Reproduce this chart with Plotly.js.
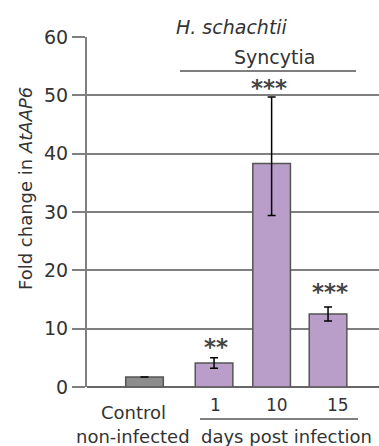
<!DOCTYPE html>
<html>
<head>
<meta charset="utf-8">
<script src="https://cdn.plot.ly/plotly-3.0.1.min.js"></script>
<style>
html,body{margin:0;padding:0;background:#fff;}
#chart{width:379px;height:446px;}
</style>
</head>
<body>
<div id="chart"></div>
<script>
// ---- data ----
const groups = ["Control", "1", "10", "15"];
const foldChange = [1.7, 4.1, 38.3, 12.5];
const errPlus = [0, 0.9, 11.4, 1.2];
const errMinus = [0, 0.9, 8.9, 1.2];
const significance = ["", "**", "***", "***"];
const yTicks = [0, 10, 20, 30, 40, 50, 60];

// ---- layout helpers (positions, not data) ----
const xPos = [0, 1.22, 2.23, 3.22];
const FONT = "DejaVu Sans, Arial, sans-serif";
const GRID = "#7f7f7f";
const PX_L = 87, PX_W = 292, PX_B = 387, PX_H = 350;
const px = v => (v - PX_L) / PX_W;
const py = v => (PX_B - v) / PX_H;

const barColors = ["#8c8c8c", "#b99ec9", "#b99ec9", "#b99ec9"];

const trace = {
  type: "bar",
  x: xPos,
  y: foldChange,
  width: 0.66,
  marker: { color: barColors, line: { color: "#555555", width: 1.5 } },
  error_y: {
    type: "data", symmetric: false,
    array: errPlus, arrayminus: errMinus,
    color: "#000000", thickness: 1.5, width: 4,
    visible: true
  },
  hoverinfo: "none"
};

const sigY = [0, 6.9, 51.3, 16.3];
const sigShift = [0, 2, -3, 2];
const annotations = [];
significance.forEach((s, i) => {
  if (!s) return;
  annotations.push({
    xref: "x", yref: "y", x: xPos[i], y: sigY[i], xshift: sigShift[i],
    text: "<b>" + s + "</b>", showarrow: false, yanchor: "middle",
    font: { family: FONT, size: 23, color: "#444444" }
  });
});

function label(text, x, y, size, extra) {
  annotations.push(Object.assign({
    xref: "paper", yref: "paper", x: px(x), y: py(y), text: text,
    showarrow: false, xanchor: "center", yanchor: "middle",
    font: { family: FONT, size: size, color: "#333333" }
  }, extra || {}));
}
label("<i>H. schachtii</i>", 231.5, 27, 19);
label("Syncytia", 274, 57, 19);
label("Control", 133, 412, 18);
label("non-infected", 132.5, 436, 18);
label(groups[1], 215.5, 405, 17);
label(groups[2], 276.7, 405, 17);
label(groups[3], 337.5, 405, 17);
label("days post infection", 286, 436, 18);
label("Fold change in <i>AtAAP6</i>", 25, 189, 18, { textangle: -90 });

const shapes = [
  { type: "line", xref: "paper", yref: "paper", x0: px(180), x1: px(356), y0: py(71), y1: py(71),
    line: { color: "#555555", width: 1.5 } },
  { type: "line", xref: "paper", yref: "paper", x0: px(200), x1: px(358), y0: py(419), y1: py(419),
    line: { color: "#555555", width: 1.5 } }
];

const layout = {
  width: 379, height: 446,
  margin: { l: PX_L, r: 0, t: 37, b: 59, pad: 0 },
  paper_bgcolor: "#ffffff", plot_bgcolor: "#ffffff",
  showlegend: false,
  font: { family: FONT, color: "#333333" },
  xaxis: {
    range: [-1.009, 4.114], showgrid: false, zeroline: false,
    showticklabels: false, ticks: "", showline: false, fixedrange: true
  },
  yaxis: {
    range: [0, 60], tickvals: yTicks, ticktext: yTicks.map(String),
    ticks: "outside", ticklen: 13, tickwidth: 2, tickcolor: GRID,
    showgrid: true, gridcolor: GRID, gridwidth: 2,
    zeroline: true, zerolinecolor: "#666666", zerolinewidth: 2.5,
    showline: true, linecolor: GRID, linewidth: 2,
    tickfont: { family: FONT, size: 19, color: "#333333" },
    automargin: false, fixedrange: true
  },
  annotations: annotations,
  shapes: shapes
};

Plotly.newPlot("chart", [trace], layout, { displayModeBar: false, staticPlot: true });
</script>
</body>
</html>
